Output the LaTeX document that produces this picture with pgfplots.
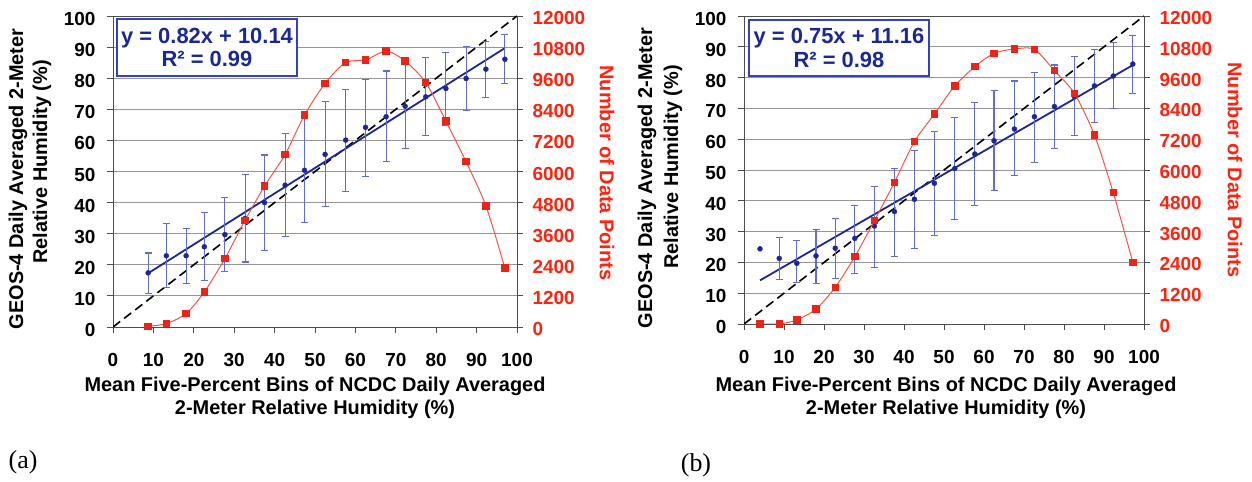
\documentclass[border=0pt]{standalone}
\usepackage{fontspec}
\setmainfont{Liberation Sans}
\newfontfamily\timesfont{Liberation Serif}
\usepackage{pgfplots}
\usepackage{pgfplotstable}
\pgfplotsset{compat=1.18}

\definecolor{navy}{RGB}{26,40,150}
\definecolor{errblue}{RGB}{95,110,205}
\definecolor{redpts}{RGB}{235,35,25}
\definecolor{redline}{RGB}{242,85,65}
\definecolor{redtxt}{RGB}{255,35,15}
\definecolor{boxblue}{RGB}{50,65,190}
\definecolor{gridgray}{RGB}{150,150,150}

\pgfplotstableread{
x    y    ep   em   n
8.7  17.4 6.4  6.7  26
13.2 22.9 10.4 10.2 129
18.1 22.9 8.8  9.0  515
22.6 25.8 11.0 10.8 1352
27.7 29.7 11.9 12.0 2640
32.7 34.9 14.1 14.0 4120
37.5 40.0 15.3 15.3 5434
42.6 45.6 16.6 16.6 6657
47.4 50.4 17.7 16.9 8176
52.5 55.5 16.9 16.9 9400
57.6 60.1 16.3 16.6 10211
62.5 64.2 15.4 15.7 10301
67.6 67.6 14.7 14.5 10648
72.3 71.0 14.5 13.6 10262
77.4 74.0 12.6 12.3 9438
82.4 76.7 11.6 11.8 7945
87.4 79.9 10.2 10.4 6374
92.3 82.9 8.8  9.1  4674
97.0 86.1 8.0  7.8  2279
}\dataA

\pgfplotstableread{
x    y    ep   em   n
4.0  24.4 0    0    0
8.8  21.3 6.8  7.0  0
13.2 19.7 7.4  6.3  156
18.0 22.1 8.6  8.9  584
22.8 24.6 9.7  9.8  1429
27.7 27.8 10.8 11.3 2623
32.6 31.8 12.8 13.4 4026
37.6 36.5 14.0 14.6 5519
42.6 40.5 15.8 16.1 7104
47.6 45.7 16.7 17.1 8182
52.7 50.5 16.5 16.7 9273
57.7 55.2 16.8 16.8 10026
62.5 59.5 16.3 16.2 10545
67.6 63.3 15.6 15.2 10714
72.6 67.3 14.4 14.8 10701
77.6 70.6 13.5 13.6 9870
82.6 73.8 13.0 12.7 8987
87.6 77.3 11.9 11.8 7364
92.3 80.5 10.8 10.5 5117
97.2 84.4 9.4  9.5  2403
}\dataB

\newcommand{\tickfont}{\fontsize{19}{19}\selectfont\bfseries}
\newcommand{\labfont}{\fontsize{20}{22}\selectfont\bfseries}

\pgfplotsset{
  leftax/.style={
    scale only axis, xmin=0, xmax=100, ymin=0, ymax=100,
    xtick={0,10,...,100}, ytick={0,10,...,100},
    xtick pos=bottom, ytick pos=left,
    ymajorgrids, grid style={gridgray, line width=0.9bp},
    tick align=outside, major tick length=6bp,
    axis line style={black!70, line width=0.9bp},
    tick style={black!70, line width=0.9bp},
    ticklabel style={font=\tickfont},
    /pgf/number format/assume math mode=true,
    yticklabel style={xshift=-8bp, yshift=-3bp},
    xticklabel style={yshift=-17bp},
    clip=true,
  },
  rightax/.style={
    scale only axis, xmin=0, xmax=100, ymin=0, ymax=12000,
    axis x line=none, axis y line*=right,
    ytick={0,1200,...,12000}, ytick pos=right,
    tick align=outside, major tick length=6bp,
    axis line style={black!70, line width=0.9bp},
    tick style={black!70, line width=0.9bp},
    scaled y ticks=false,
    /pgf/number format/1000 sep={},
    /pgf/number format/assume math mode=true,
    yticklabel style={font=\tickfont, text=redtxt, xshift=6bp, yshift=-2bp},
  },
  errplot/.style={
    only marks, mark=*, mark size=2.5bp, color=navy,
    error bars/.cd, y dir=both, y explicit,
    error bar style={errblue, line width=1.1bp},
    error mark options={rotate=90, errblue, line width=1.1bp, mark size=3.5bp},
  },
  redplot/.style={
    redline, line width=1bp, smooth, tension=0.45,
    mark=square*, mark size=3.2bp, mark options={redpts, fill=redpts, solid},
  },
}

\begin{document}
\begin{tikzpicture}[x=1bp,y=1bp]
\path[use as bounding box] (0,0) rectangle (1252,482);

% ---------------- Panel (a) ----------------
\begin{axis}[leftax, width=404bp, height=311bp, at={(113bp,155bp)}, anchor=south west]
  \addplot[black, line width=1.6bp, dash pattern=on 9bp off 5bp] coordinates {(0,0) (100,100)};
  \addplot[navy, line width=1.8bp] coordinates {(8.7,17.27) (97,89.68)};
  \addplot[errplot] table[x=x, y=y, y error plus=ep, y error minus=em] {\dataA};
\end{axis}
\begin{axis}[rightax, width=404bp, height=311bp, at={(113bp,155bp)}, anchor=south west]
  \addplot[redplot] table[x=x, y=n] {\dataA};
\end{axis}

% ---------------- Panel (b) ----------------
\begin{axis}[leftax, width=400bp, height=308bp, at={(744bp,158bp)}, anchor=south west]
  \addplot[black, line width=1.6bp, dash pattern=on 9bp off 5bp] coordinates {(0,0) (100,100)};
  \addplot[navy, line width=1.8bp] coordinates {(4.0,14.16) (97.2,84.06)};
  \addplot[skip coords between index={0}{1}, errplot] table[x=x, y=y, y error plus=ep, y error minus=em] {\dataB};
  \addplot[only marks, mark=*, mark size=2.5bp, color=navy, restrict x to domain=0:5] table[x=x, y=y] {\dataB};
\end{axis}
\begin{axis}[rightax, width=400bp, height=308bp, at={(744bp,158bp)}, anchor=south west]
  \addplot[redplot] table[x=x, y=n] {\dataB};
\end{axis}

% equation boxes
\node[draw=boxblue, line width=1.3bp, fill=white, text=navy, align=center,
      minimum width=180bp, minimum height=57bp, inner sep=0pt,
      font=\fontsize{22}{24}\selectfont\bfseries] at (207,434.5)
      {y = 0.82x + 10.14\\R² = 0.99};
\node[draw=boxblue, line width=1.3bp, fill=white, text=navy, align=center,
      minimum width=180bp, minimum height=56bp, inner sep=0pt,
      font=\fontsize{22}{24}\selectfont\bfseries] at (839,434)
      {y = 0.75x + 11.16\\R² = 0.98};

% labels panel (a)
\node[rotate=90, font=\labfont] at (18,303) {GEOS-4 Daily Averaged 2-Meter};
\node[rotate=90, font=\labfont] at (42,320) {Relative Humidity (\%)};
\node[font=\labfont] at (315,96) {Mean Five-Percent Bins of NCDC Daily Averaged};
\node[font=\labfont] at (315,73) {2-Meter Relative Humidity (\%)};
\node[rotate=-90, font=\labfont, text=redtxt] at (607,309) {Number of Data Points};
\node[font=\timesfont\fontsize{26}{28}\selectfont] at (23,20) {(a)};

% labels panel (b)
\node[rotate=90, font=\labfont] at (647,304) {GEOS-4 Daily Averaged 2-Meter};
\node[rotate=90, font=\labfont] at (673,315) {Relative Humidity (\%)};
\node[font=\labfont] at (946,96) {Mean Five-Percent Bins of NCDC Daily Averaged};
\node[font=\labfont] at (946,73) {2-Meter Relative Humidity (\%)};
\node[rotate=-90, font=\labfont, text=redtxt] at (1235,312) {Number of Data Points};
\node[font=\timesfont\fontsize{26}{28}\selectfont] at (696,17) {(b)};
\end{tikzpicture}
\end{document}
